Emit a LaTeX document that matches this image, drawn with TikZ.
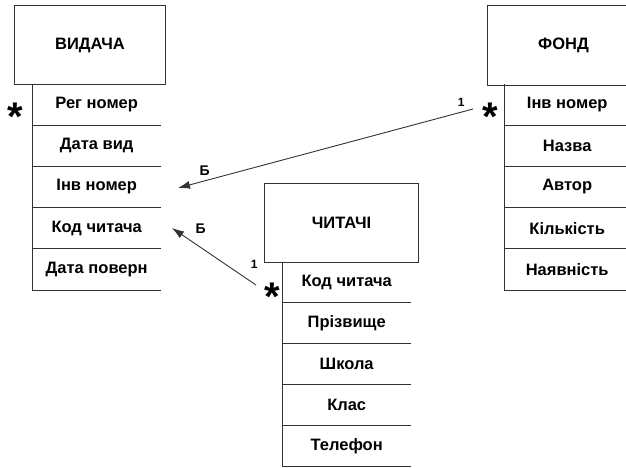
\documentclass[tikz,border=0pt]{standalone}
\usepackage{fontspec}
\setmainfont{Liberation Sans}
\usetikzlibrary{arrows.meta,positioning,calc}

\begin{document}
\begin{tikzpicture}[
                x=1pt, y=-1pt,
                font=\bfseries\fontsize{16.5}{18}\selectfont,
                ln/.style={draw=black!80, line width=1pt},
                ent/.style={ln, inner sep=0pt, anchor=north west},
                row/.style={inner sep=0pt, minimum height=40.8pt, anchor=north west},
                star/.style={font=\bfseries\fontsize{40}{40}\selectfont, inner sep=0pt, anchor=base},
                arr/.style={draw=black!80, line width=0.9pt, -{Latex[length=12pt, width=8pt]}},
                card/.style={font=\bfseries\fontsize{12}{13}\selectfont},
                lbl/.style={font=\bfseries\fontsize{14}{15}\selectfont},
            ]
            \useasboundingbox (0,0) rectangle (626,467);
            % --- сутності ---
            \node[ent, minimum width=151pt, minimum height=79pt] (vyd) at (14,5) {ВИДАЧА};
            \node[ent, minimum width=152pt, minimum height=80pt] (fond) at (487,5) {ФОНД};
            \node[ent, minimum width=154pt, minimum height=79pt] (chyt) at (264,183) {ЧИТАЧІ};
            % --- атрибути ---
            \node[row, minimum width=129pt] (v1) at (32,84) {Рег номер};
            \foreach \t [count=\i from 2, evaluate=\i as \p using int(\i-1)] in {Дата вид,Інв номер,Код читача,Дата поверн}
                \node[row, minimum width=129pt, below=0pt of v\p] (v\i) {\t};
            \node[row, minimum width=126pt] (f1) at (504,84) {Інв номер};
            \foreach \t [count=\i from 2, evaluate=\i as \p using int(\i-1)] in {Назва,Автор,Кількість,Наявність}
                \node[row, minimum width=126pt, below=0pt of f\p] (f\i) {\t};
            \node[row, minimum width=129pt, minimum height=40.5pt] (c1) at (282,262) {Код читача};
            \foreach \t [count=\i from 2, evaluate=\i as \p using int(\i-1)] in {Прізвище,Школа,Клас,Телефон}
                \node[row, minimum width=129pt, minimum height=40.5pt, below=0pt of c\p] (c\i) {\t};
            % --- лінії таблиць ---
            \foreach \e in {v,f,c} {
                \draw[ln] (\e1.north west) -- (\e5.south west);
                \foreach \i in {1,...,5} \draw[ln] (\e\i.south west) -- (\e\i.south east);
            }
            % --- зірочки ---
            \node[star] (sv) at (15,130.5) {*};
            \node[star] (sf) at (490,130.5) {*};
            \node[star] (sc) at (272,310) {*};
            % --- зв'язки ---
            \coordinate (fOut) at (473,109);
            \coordinate (vIn1) at (178,188);
            \coordinate (cOut) at (256,285);
            \coordinate (vIn2) at (172,228);
            \draw[arr] (fOut) -- node[card, pos=0.04, above=2pt] {1} node[lbl, pos=0.91, above=2pt] {Б} (vIn1);
            \draw[arr] (cOut) -- node[card, pos=0.02, above=12pt] {1} node[lbl, pos=0.66, above=10pt] {Б} (vIn2);
        \end{tikzpicture}
\end{document}
